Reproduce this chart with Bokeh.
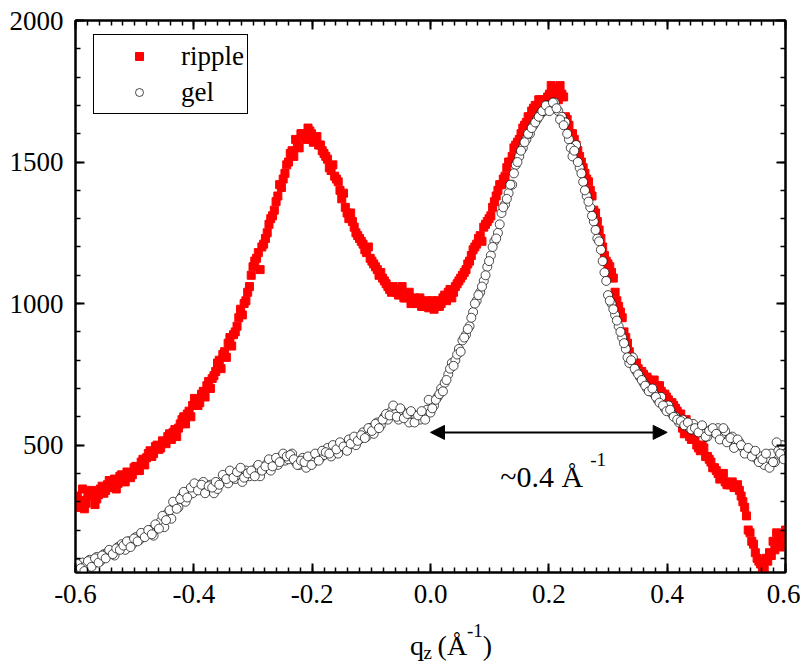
from bokeh.plotting import figure
from bokeh.layouts import column
from bokeh.models import (FixedTicker, LinearAxis, Legend, LegendItem, Label,
                          Arrow, NormalHead, Range1d)
from bokeh.embed import file_html
from bokeh.resources import INLINE

# ---------------- data ----------------
q = [
    -0.600, -0.594, -0.588, -0.582, -0.576, -0.570, -0.564, -0.558, -0.552, -0.546,
    -0.540, -0.534, -0.528, -0.522, -0.516, -0.510, -0.504, -0.498, -0.492, -0.486,
    -0.480, -0.474, -0.468, -0.462, -0.456, -0.450, -0.444, -0.438, -0.432, -0.426,
    -0.420, -0.414, -0.408, -0.402, -0.396, -0.390, -0.384, -0.378, -0.372, -0.366,
    -0.360, -0.354, -0.348, -0.342, -0.336, -0.330, -0.324, -0.318, -0.312, -0.306,
    -0.300, -0.294, -0.288, -0.282, -0.276, -0.270, -0.264, -0.258, -0.252, -0.246,
    -0.240, -0.234, -0.228, -0.222, -0.216, -0.210, -0.204, -0.198, -0.192, -0.186,
    -0.180, -0.174, -0.168, -0.162, -0.156, -0.150, -0.144, -0.138, -0.132, -0.126,
    -0.120, -0.114, -0.108, -0.102, -0.096, -0.090, -0.084, -0.078, -0.072, -0.066,
    -0.060, -0.054, -0.048, -0.042, -0.036, -0.030, -0.024, -0.018, -0.012, -0.006,
    0.000, 0.006, 0.012, 0.018, 0.024, 0.030, 0.036, 0.042, 0.048, 0.054,
    0.060, 0.066, 0.072, 0.078, 0.084, 0.090, 0.096, 0.102, 0.108, 0.114,
    0.120, 0.126, 0.132, 0.138, 0.144, 0.150, 0.156, 0.162, 0.168, 0.174,
    0.180, 0.186, 0.192, 0.198, 0.204, 0.210, 0.216, 0.222, 0.228, 0.234,
    0.240, 0.246, 0.252, 0.258, 0.264, 0.270, 0.276, 0.282, 0.288, 0.294,
    0.300, 0.306, 0.312, 0.318, 0.324, 0.330, 0.336, 0.342, 0.348, 0.354,
    0.360, 0.366, 0.372, 0.378, 0.384, 0.390, 0.396, 0.402, 0.408, 0.414,
    0.420, 0.426, 0.432, 0.438, 0.444, 0.450, 0.456, 0.462, 0.468, 0.474,
    0.480, 0.486, 0.492, 0.498, 0.504, 0.510, 0.516, 0.522, 0.528, 0.534,
    0.540, 0.546, 0.552, 0.558, 0.564, 0.570, 0.576, 0.582, 0.588, 0.594,
    0.600,
]

ripple = [
    300, 280, 345, 295, 320, 330, 310, 345, 330, 360,
    350, 380, 365, 395, 370, 400, 395, 425, 410, 450,
    455, 480, 470, 500, 490, 510, 530, 520, 555, 560,
    590, 575, 620, 640, 660, 650, 690, 710, 700, 745,
    790, 770, 830, 860, 850, 900, 950, 960, 1010, 1060,
    1130, 1160, 1120, 1210, 1250, 1300, 1330, 1380, 1410, 1460,
    1500, 1540, 1580, 1550, 1600, 1580, 1610, 1570, 1590, 1560,
    1530, 1510, 1470, 1450, 1430, 1370, 1340, 1300, 1290, 1250,
    1230, 1210, 1180, 1160, 1140, 1120, 1110, 1080, 1060, 1040,
    1050, 1030, 1060, 1020, 1040, 1010, 1000, 1020, 990, 1010,
    1000, 980, 1010, 1000, 1030, 1040, 1020, 1060, 1080, 1100,
    1120, 1150, 1190, 1210, 1240, 1270, 1290, 1310, 1360, 1400,
    1420, 1450, 1500, 1520, 1560, 1580, 1620, 1640, 1660, 1690,
    1700, 1720, 1700, 1730, 1770, 1760, 1720, 1740, 1660, 1630,
    1600, 1560, 1520, 1480, 1440, 1400, 1330, 1290, 1230, 1170,
    1140, 1110, 1040, 990, 950, 880, 830, 800, 790, 760,
    750, 740, 720, 730, 700, 690, 680, 660, 650, 630,
    600, 560, 590, 530, 520, 500, 480, 490, 460, 440,
    420, 400, 390, 370, 360, 370, 350, 340, 300, 250,
    190, 150, 100, 80, 60, 90, 110, 130, 170, 150,
    200,
]

gel = [
    70, 60, 85, 75, 95, 80, 105, 90, 115, 120,
    125, 110, 140, 150, 130, 160, 150, 175, 165, 185,
    190, 200, 180, 215, 230, 210, 260, 240, 290, 280,
    320, 300, 340, 330, 360, 345, 370, 340, 360, 330,
    345, 370, 390, 365, 400, 380, 395, 370, 410, 390,
    400, 420, 390, 415, 435, 410, 440, 430, 460, 445,
    450, 470, 440, 430, 455, 420, 450, 440, 465, 455,
    465, 490, 460, 480, 470, 500, 490, 520, 505, 500,
    520, 545, 530, 560, 540, 580, 570, 600, 590, 620,
    610, 590, 620, 600, 580, 610, 600, 590, 610, 625,
    615, 640, 670, 700, 720, 750, 790, 800, 840, 870,
    890, 920, 970, 1010, 1040, 1080, 1130, 1170, 1220, 1250,
    1320, 1350, 1390, 1420, 1490, 1520, 1550, 1580, 1600, 1630,
    1650, 1670, 1680, 1700, 1690, 1710, 1680, 1660, 1640, 1580,
    1520, 1560, 1480, 1430, 1380, 1340, 1290, 1230, 1190, 1110,
    1030, 1000, 960, 920, 880, 840, 790, 810, 760, 740,
    720, 700, 690, 680, 660, 670, 630, 640, 610, 600,
    580, 590, 570, 560, 575, 550, 560, 540, 530, 555,
    545, 560, 530, 550, 520, 530, 500, 510, 490, 480,
    480, 470, 450, 460, 430, 455, 470, 440, 480, 500,
    470,
]

# second (interleaved) scan points
q2 = [
    -0.597, -0.591, -0.585, -0.579, -0.573, -0.567, -0.561, -0.555, -0.549, -0.543,
    -0.537, -0.531, -0.525, -0.519, -0.513, -0.507, -0.501, -0.495, -0.489, -0.483,
    -0.477, -0.471, -0.465, -0.459, -0.453, -0.447, -0.441, -0.435, -0.429, -0.423,
    -0.417, -0.411, -0.405, -0.399, -0.393, -0.387, -0.381, -0.375, -0.369, -0.363,
    -0.357, -0.351, -0.345, -0.339, -0.333, -0.327, -0.321, -0.315, -0.309, -0.303,
    -0.297, -0.291, -0.285, -0.279, -0.273, -0.267, -0.261, -0.255, -0.249, -0.243,
    -0.237, -0.231, -0.225, -0.219, -0.213, -0.207, -0.201, -0.195, -0.189, -0.183,
    -0.177, -0.171, -0.165, -0.159, -0.153, -0.147, -0.141, -0.135, -0.129, -0.123,
    -0.117, -0.111, -0.105, -0.099, -0.093, -0.087, -0.081, -0.075, -0.069, -0.063,
    -0.057, -0.051, -0.045, -0.039, -0.033, -0.027, -0.021, -0.015, -0.009, -0.003,
    0.003, 0.009, 0.015, 0.021, 0.027, 0.033, 0.039, 0.045, 0.051, 0.057,
    0.063, 0.069, 0.075, 0.081, 0.087, 0.093, 0.099, 0.105, 0.111, 0.117,
    0.123, 0.129, 0.135, 0.141, 0.147, 0.153, 0.159, 0.165, 0.171, 0.177,
    0.183, 0.189, 0.195, 0.201, 0.207, 0.213, 0.219, 0.225, 0.231, 0.237,
    0.243, 0.249, 0.255, 0.261, 0.267, 0.273, 0.279, 0.285, 0.291, 0.297,
    0.303, 0.309, 0.315, 0.321, 0.327, 0.333, 0.339, 0.345, 0.351, 0.357,
    0.363, 0.369, 0.375, 0.381, 0.387, 0.393, 0.399, 0.405, 0.411, 0.417,
    0.423, 0.429, 0.435, 0.441, 0.447, 0.453, 0.459, 0.465, 0.471, 0.477,
    0.483, 0.489, 0.495, 0.501, 0.507, 0.513, 0.519, 0.525, 0.531, 0.537,
    0.543, 0.549, 0.555, 0.561, 0.567, 0.573, 0.579, 0.585, 0.591, 0.597,
]

ripple2 = [
    320, 305, 275, 330, 340, 290, 325, 355, 340, 375,
    365, 345, 390, 380, 405, 385, 420, 410, 440, 430,
    470, 460, 495, 485, 515, 505, 540, 545, 530, 575,
    600, 610, 600, 665, 640, 680, 670, 725, 735, 760,
    800, 820, 810, 880, 890, 920, 980, 1000, 1040, 1100,
    1150, 1180, 1200, 1230, 1280, 1310, 1360, 1420, 1440, 1490,
    1530, 1520, 1560, 1600, 1590, 1620, 1600, 1580, 1560, 1540,
    1520, 1480, 1490, 1440, 1400, 1390, 1320, 1320, 1270, 1240,
    1220, 1190, 1200, 1150, 1130, 1100, 1090, 1070, 1050, 1060,
    1040, 1050, 1020, 1030, 1000, 1020, 1010, 990, 1000, 985,
    1010, 1000, 990, 1020, 1010, 1050, 1040, 1070, 1090, 1110,
    1140, 1170, 1200, 1230, 1220, 1280, 1300, 1340, 1380, 1420,
    1440, 1480, 1500, 1550, 1570, 1600, 1630, 1660, 1680, 1700,
    1720, 1700, 1710, 1740, 1720, 1750, 1770, 1730, 1650, 1600,
    1580, 1540, 1500, 1460, 1430, 1380, 1320, 1260, 1200, 1150,
    1130, 1090, 1010, 970, 900, 860, 810, 790, 770, 760,
    740, 730, 720, 700, 710, 680, 670, 650, 640, 620,
    610, 540, 560, 520, 530, 490, 500, 460, 450, 420,
    410, 380, 400, 360, 360, 350, 360, 320, 280, 200,
    160, 120, 90, 60, 100, 120, 160, 190, 140, 180,
]

gel2 = [
    80, 65, 55, 90, 70, 100, 85, 110, 100, 130,
    115, 135, 130, 145, 160, 140, 170, 160, 190, 175,
    200, 185, 220, 205, 250, 235, 270, 300, 275, 310,
    335, 315, 350, 365, 340, 360, 330, 355, 350, 370,
    360, 395, 380, 410, 385, 405, 420, 385, 400, 410,
    390, 430, 410, 425, 450, 425, 455, 440, 470, 460,
    465, 450, 430, 445, 440, 460, 430, 470, 445, 480,
    475, 470, 500, 485, 510, 495, 480, 505, 530, 515,
    535, 525, 560, 550, 575, 560, 590, 610, 605, 640,
    600, 630, 595, 610, 620, 580, 605, 620, 590, 660,
    630, 660, 680, 690, 730, 770, 780, 820, 830, 880,
    910, 950, 1000, 1030, 1060, 1100, 1150, 1200, 1230, 1280,
    1340, 1370, 1420, 1460, 1500, 1540, 1570, 1600, 1620, 1640,
    1660, 1680, 1700, 1680, 1710, 1690, 1650, 1630, 1600, 1550,
    1540, 1500, 1460, 1400, 1360, 1310, 1260, 1220, 1150, 1080,
    1010, 980, 940, 900, 860, 810, 800, 770, 750, 730,
    710, 690, 700, 670, 650, 640, 620, 625, 600, 590,
    585, 570, 580, 555, 560, 545, 570, 530, 550, 560,
    540, 520, 560, 510, 525, 490, 520, 500, 470, 490,
    460, 480, 440, 450, 470, 420, 440, 510, 470, 450,
]

x_ticks = [-0.6, -0.4, -0.2, 0.0, 0.2, 0.4, 0.6]
x_tick_labels = ["-0.6", "-0.4", "-0.2", "0.0", "0.2", "0.4", "0.6"]
y_ticks = [500, 1000, 1500, 2000]
y_tick_labels = ["500", "1000", "1500", "2000"]
x_minor = [round(-0.6 + 0.02 * i, 2) for i in range(61)]
y_minor = [100 * i for i in range(1, 21)]

series_names = ["ripple", "gel"]
spacing_start, spacing_end = 0.0, 0.4   # annotated spacing (Å^-1)
spacing_level = 545
spacing_text = "~0.4 Å"
axis_title_parts = ["q", "z", "(Å", "-1", ")"]

FONT = "Liberation Serif"
TICK_FS = "27px"

# ---------------- main figure ----------------
p = figure(width=800, height=620, output_backend="svg", toolbar_location=None,
           x_range=Range1d(-0.6, 0.6), y_range=Range1d(50, 2000),
           min_border_left=75, min_border_right=15, min_border_top=20,
           min_border_bottom=48, x_axis_location=None, y_axis_location=None)
p.xgrid.visible = False
p.ygrid.visible = False
p.outline_line_color = "black"
p.outline_line_width = 2
p.background_fill_color = "white"
p.border_fill_color = "white"

xt = FixedTicker(ticks=x_ticks, minor_ticks=x_minor)
yt = FixedTicker(ticks=y_ticks, minor_ticks=y_minor)


def style(ax, labels, show):
    ax.axis_line_width = 2
    ax.axis_line_color = "black"
    ax.major_tick_in = 9
    ax.major_tick_out = 0
    ax.minor_tick_in = 5
    ax.minor_tick_out = 0
    ax.major_tick_line_width = 2
    ax.minor_tick_line_width = 1.5
    ax.major_tick_line_color = "black"
    ax.minor_tick_line_color = "black"
    if show:
        ax.major_label_text_font = FONT
        ax.major_label_text_font_size = TICK_FS
        ax.major_label_text_color = "black"
        ax.major_label_overrides = labels
    else:
        ax.major_label_text_font_size = "1px"
        ax.major_label_text_color = None
        ax.major_label_standoff = 0


bx = LinearAxis(ticker=xt)
style(bx, {t: l for t, l in zip(x_ticks, x_tick_labels)}, True)
bx.major_label_standoff = 12
p.add_layout(bx, "below")

ly = LinearAxis(ticker=yt)
style(ly, {t: l for t, l in zip(y_ticks, y_tick_labels)}, True)
ly.major_label_standoff = 12
p.add_layout(ly, "left")

tx = LinearAxis(ticker=xt)
style(tx, {}, False)
p.add_layout(tx, "above")

ry = LinearAxis(ticker=yt)
style(ry, {}, False)
p.add_layout(ry, "right")

r1 = p.scatter(q + q2, ripple + ripple2, marker="square", size=8,
               fill_color="red", line_color="red")
r2 = p.scatter(q + q2, gel + gel2, marker="circle", size=9, fill_color="white",
               line_color="black", line_width=0.7)

legend = Legend(items=[LegendItem(label=series_names[0], renderers=[r1]),
                       LegendItem(label=series_names[1], renderers=[r2])],
                location=(18, 458), label_text_font=FONT,
                label_text_font_size=TICK_FS, label_text_color="black",
                label_height=36, glyph_height=20,
                glyph_width=84, label_standoff=0, padding=3, spacing=0,
                border_line_color="black", border_line_width=1,
                border_line_alpha=1, background_fill_alpha=1)
p.add_layout(legend, "center")

# spacing arrow and text
head = dict(size=14, fill_color="black", line_color="black")
p.add_layout(Arrow(x_start=spacing_start, y_start=spacing_level,
                   x_end=spacing_end, y_end=spacing_level,
                   line_color="black", line_width=2,
                   start=NormalHead(**head), end=NormalHead(**head)))
p.add_layout(Label(x=0.118, y=389, text=spacing_text, text_font=FONT,
                   text_font_size="30px", text_color="black",
                   text_baseline="alphabetic"))
p.add_layout(Label(x=0.270, y=449, text="-1", text_font=FONT,
                   text_font_size="19px", text_color="black",
                   text_baseline="alphabetic"))

# ---------------- axis title strip ----------------
t = figure(width=800, height=46, output_backend="svg", toolbar_location=None,
           x_range=Range1d(0, 800), y_range=Range1d(0, 46),
           min_border=0, x_axis_location=None, y_axis_location=None)
t.xgrid.visible = False
t.ygrid.visible = False
t.outline_line_color = None
# positions in page pixels (strip spans page y 620..666)
for txt, px, py, fs in zip(axis_title_parts,
                           [377, 392, 408, 441, 459],
                           [645, 652, 645, 630, 645],
                           ["28px", "19px", "28px", "19px", "28px"]):
    t.add_layout(Label(x=px, y=666 - py, text=txt, text_font=FONT,
                       text_font_size=fs, text_color="black",
                       text_baseline="alphabetic"))

layout = column(p, t, spacing=0)
open("out.html", "w").write(file_html(layout, INLINE))
